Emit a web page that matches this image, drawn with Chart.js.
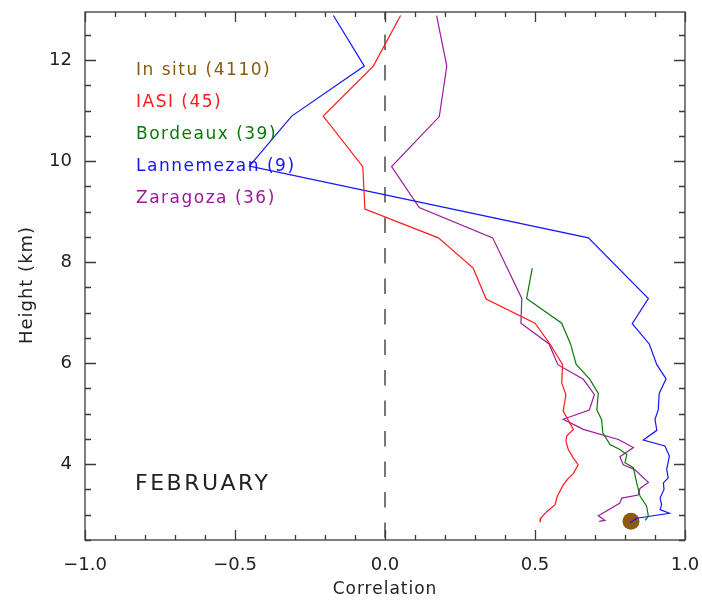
<!DOCTYPE html>
<html>
<head>
<meta charset="utf-8">
<script src="https://cdn.jsdelivr.net/npm/chart.js@4.4.1/dist/chart.umd.min.js"></script>
<style>
  html, body { margin: 0; padding: 0; background: #ffffff; }
  #wrap { width: 702px; height: 601px; }
</style>
</head>
<body>
<div id="wrap"><canvas id="chart" width="702" height="601"></canvas></div>
<script>
// Vertical profiles of correlation versus height, February.

const seriesNames = ['In situ', 'IASI', 'Bordeaux', 'Lannemezan', 'Zaragoza'];
const sampleCounts = [4110, 45, 39, 9, 36];
const seriesColors = ['#8c5a0a', '#ff1a1a', '#0c780c', '#1414ff', '#9a1a9a'];
const monthLabel = 'FEBRUARY';
const xTitle = 'Correlation';
const yTitle = 'Height (km)';

const xTickLabels = [-1.0, -0.5, 0.0, 0.5, 1.0];
const yTickLabels = [4, 6, 8, 10, 12];

// In situ: single value near the ground
const insituHeight = [2.87];
const insituCorr = [0.82];

// IASI
const iasiHeight = [12.88, 11.88, 10.89, 9.89, 9.05, 8.48, 7.88, 7.27, 6.79, 6.38, 5.97, 5.61, 5.38, 5.05, 4.69,
  4.56, 4.46, 4.29, 4.12, 3.99, 3.82, 3.72, 3.59, 3.36, 3.20, 3.06, 2.93, 2.85];
const iasiCorr = [0.052, -0.039, -0.206, -0.074, -0.067, 0.178, 0.294, 0.337, 0.500, 0.550, 0.592, 0.589, 0.603, 0.594, 0.628,
  0.606, 0.603, 0.611, 0.628, 0.644, 0.628, 0.611, 0.594, 0.574, 0.567, 0.539, 0.519, 0.517];

// Bordeaux
const bordeauxHeight = [7.88, 7.28, 6.79, 6.37, 5.98, 5.68, 5.40, 5.08, 4.88, 4.62, 4.39, 4.29, 4.19, 4.03, 3.93,
  3.63, 3.37, 3.17, 2.97, 2.89];
const bordeauxCorr = [0.491, 0.472, 0.589, 0.619, 0.637, 0.683, 0.711, 0.706, 0.722, 0.726, 0.750, 0.783, 0.806, 0.800, 0.828,
  0.839, 0.850, 0.872, 0.878, 0.867];

// Lannemezan
const lannemezanHeight = [12.88, 11.88, 10.89, 9.90, 8.48, 7.28, 6.78, 6.38, 5.97, 5.69, 5.40, 5.08, 4.89, 4.67, 4.48,
  4.36, 4.16, 3.90, 3.73, 3.63, 3.50, 3.33, 3.20, 3.10, 3.03, 2.96, 2.93, 2.84];
const lannemezanCorr = [-0.172, -0.069, -0.311, -0.452, 0.678, 0.878, 0.824, 0.881, 0.906, 0.937, 0.914, 0.911, 0.900, 0.906, 0.861,
  0.933, 0.948, 0.939, 0.944, 0.928, 0.930, 0.917, 0.922, 0.917, 0.948, 0.872, 0.839, 0.817];

// Zaragoza
const zaragozaHeight = [12.88, 11.88, 10.88, 9.89, 9.08, 8.48, 7.28, 6.79, 6.38, 5.97, 5.68, 5.38, 5.07, 4.89, 4.69,
  4.49, 4.33, 4.15, 3.99, 3.89, 3.64, 3.52, 3.39, 3.33, 3.23, 2.98, 2.89, 2.87];
const zaragozaCorr = [0.172, 0.206, 0.181, 0.022, 0.114, 0.359, 0.456, 0.453, 0.547, 0.576, 0.661, 0.698, 0.681, 0.594, 0.661,
  0.778, 0.828, 0.783, 0.794, 0.833, 0.878, 0.850, 0.844, 0.789, 0.783, 0.711, 0.733, 0.714];

const xMin = -1.0, xMax = 1.0;
const yMin = 2.5, yMax = 12.95;

const FONT = '"DejaVu Sans", "Liberation Sans", sans-serif';

function toPoints(corr, height) {
  return corr.map((c, i) => ({ x: c, y: height[i] }));
}

function onGrid(v, step) {
  const q = v / step;
  return Math.abs(q - Math.round(q)) < 1e-6;
}

function fmtX(v) {
  const r = Math.round(v * 10) / 10;
  return (r < 0 ? '\u2212' : '') + Math.abs(r).toFixed(1);
}

const profileLine = (label, corr, height, color) => ({
  label,
  data: toPoints(corr, height),
  showLine: true,
  borderColor: color,
  backgroundColor: color,
  borderWidth: 1.2,
  pointRadius: 0,
  pointHoverRadius: 0,
  tension: 0,
  order: 1
});

// Frame with inward ticks on all four sides, axis titles and the text block inside the plot
const framePlugin = {
  id: 'frame',
  afterDraw(chart) {
    const { ctx, chartArea: a, scales: { x, y } } = chart;
    ctx.save();
    ctx.strokeStyle = '#3a3a3a';
    ctx.lineWidth = 1.3;
    ctx.strokeRect(a.left, a.top, a.right - a.left, a.bottom - a.top);
    ctx.beginPath();
    x.ticks.forEach(t => {
      if (!onGrid(t.value, 0.1)) return;
      const px = Math.round(x.getPixelForValue(t.value)) + 0.5;
      const len = onGrid(t.value, 0.5) ? 10 : 5;
      ctx.moveTo(px, a.bottom); ctx.lineTo(px, a.bottom - len);
      ctx.moveTo(px, a.top); ctx.lineTo(px, a.top + len);
    });
    y.ticks.forEach(t => {
      if (!onGrid(t.value, 0.5)) return;
      const py = Math.round(y.getPixelForValue(t.value)) + 0.5;
      const len = yTickLabels.some(v => Math.abs(v - t.value) < 1e-6) ? 11 : 6;
      ctx.moveTo(a.left, py); ctx.lineTo(a.left + len, py);
      ctx.moveTo(a.right, py); ctx.lineTo(a.right - len, py);
    });
    ctx.stroke();

    // axis titles
    ctx.fillStyle = '#222';
    ctx.font = '17px ' + FONT;
    ctx.textAlign = 'center';
    ctx.textBaseline = 'middle';
    try { ctx.letterSpacing = '1px'; } catch (e) {}
    ctx.fillText(xTitle, (a.left + a.right) / 2, a.bottom + 50);
    ctx.save();
    ctx.translate(a.left - 58, (a.top + a.bottom) / 2 + 9);
    ctx.rotate(-Math.PI / 2);
    ctx.font = '18px ' + FONT;
    ctx.fillText(yTitle, 0, 0);
    ctx.restore();

    // series names with sample counts
    ctx.font = '17px ' + FONT;
    ctx.textAlign = 'left';
    ctx.textBaseline = 'alphabetic';
    try { ctx.letterSpacing = '1.5px'; } catch (e) {}
    seriesNames.forEach((name, i) => {
      ctx.fillStyle = seriesColors[i];
      ctx.fillText(name + ' (' + sampleCounts[i] + ')', a.left + 51, a.top + 63 + 32 * i);
    });

    ctx.fillStyle = '#222';
    ctx.font = '22px ' + FONT;
    try { ctx.letterSpacing = '2.5px'; } catch (e) {}
    ctx.fillText(monthLabel, a.left + 50, a.top + 478);
    ctx.restore();
  }
};

new Chart(document.getElementById('chart'), {
  type: 'scatter',
  data: {
    datasets: [
      {
        label: 'zero',
        data: [{ x: 0, y: yMax }, { x: 0, y: yMin }],
        showLine: true,
        borderColor: '#777777',
        borderWidth: 2,
        borderDash: [15.5, 15],
        borderDashOffset: 8,
        pointRadius: 0,
        order: 10
      },
      {
        label: seriesNames[0],
        data: toPoints(insituCorr, insituHeight),
        showLine: false,
        pointRadius: 8.5,
        pointBorderWidth: 0,
        backgroundColor: seriesColors[0],
        borderColor: seriesColors[0],
        order: 9
      },
      profileLine(seriesNames[1], iasiCorr, iasiHeight, seriesColors[1]),
      profileLine(seriesNames[2], bordeauxCorr, bordeauxHeight, seriesColors[2]),
      profileLine(seriesNames[3], lannemezanCorr, lannemezanHeight, seriesColors[3]),
      profileLine(seriesNames[4], zaragozaCorr, zaragozaHeight, seriesColors[4])
    ]
  },
  options: {
    responsive: false,
    animation: false,
    devicePixelRatio: 1,
    layout: { padding: { top: 12, right: 17, left: 0, bottom: 0 } },
    plugins: { legend: { display: false }, tooltip: { enabled: false } },
    scales: {
      x: {
        type: 'linear',
        min: xMin,
        max: xMax,
        grid: { display: false, drawTicks: false },
        border: { display: false },
        ticks: {
          stepSize: 0.1,
          autoSkip: false,
          maxRotation: 0,
          padding: 15,
          color: '#222',
          font: { family: FONT, size: 18 },
          callback: v => xTickLabels.some(t => Math.abs(t - v) < 1e-6) ? fmtX(v) : ''
        },
        title: { display: false },
        afterFit: s => { s.height = 61; s.paddingLeft = 0; s.paddingRight = 0; }
      },
      y: {
        type: 'linear',
        min: yMin,
        max: yMax,
        grid: { display: false, drawTicks: false },
        border: { display: false },
        ticks: {
          stepSize: 0.5,
          autoSkip: false,
          padding: 13,
          color: '#222',
          font: { family: FONT, size: 18 },
          callback: v => yTickLabels.some(t => Math.abs(t - v) < 1e-6) ? String(v) : ''
        },
        title: { display: false },
        afterFit: s => { s.width = 85; s.paddingTop = 0; s.paddingBottom = 0; }
      }
    }
  },
  plugins: [framePlugin]
});
</script>
</body>
</html>
